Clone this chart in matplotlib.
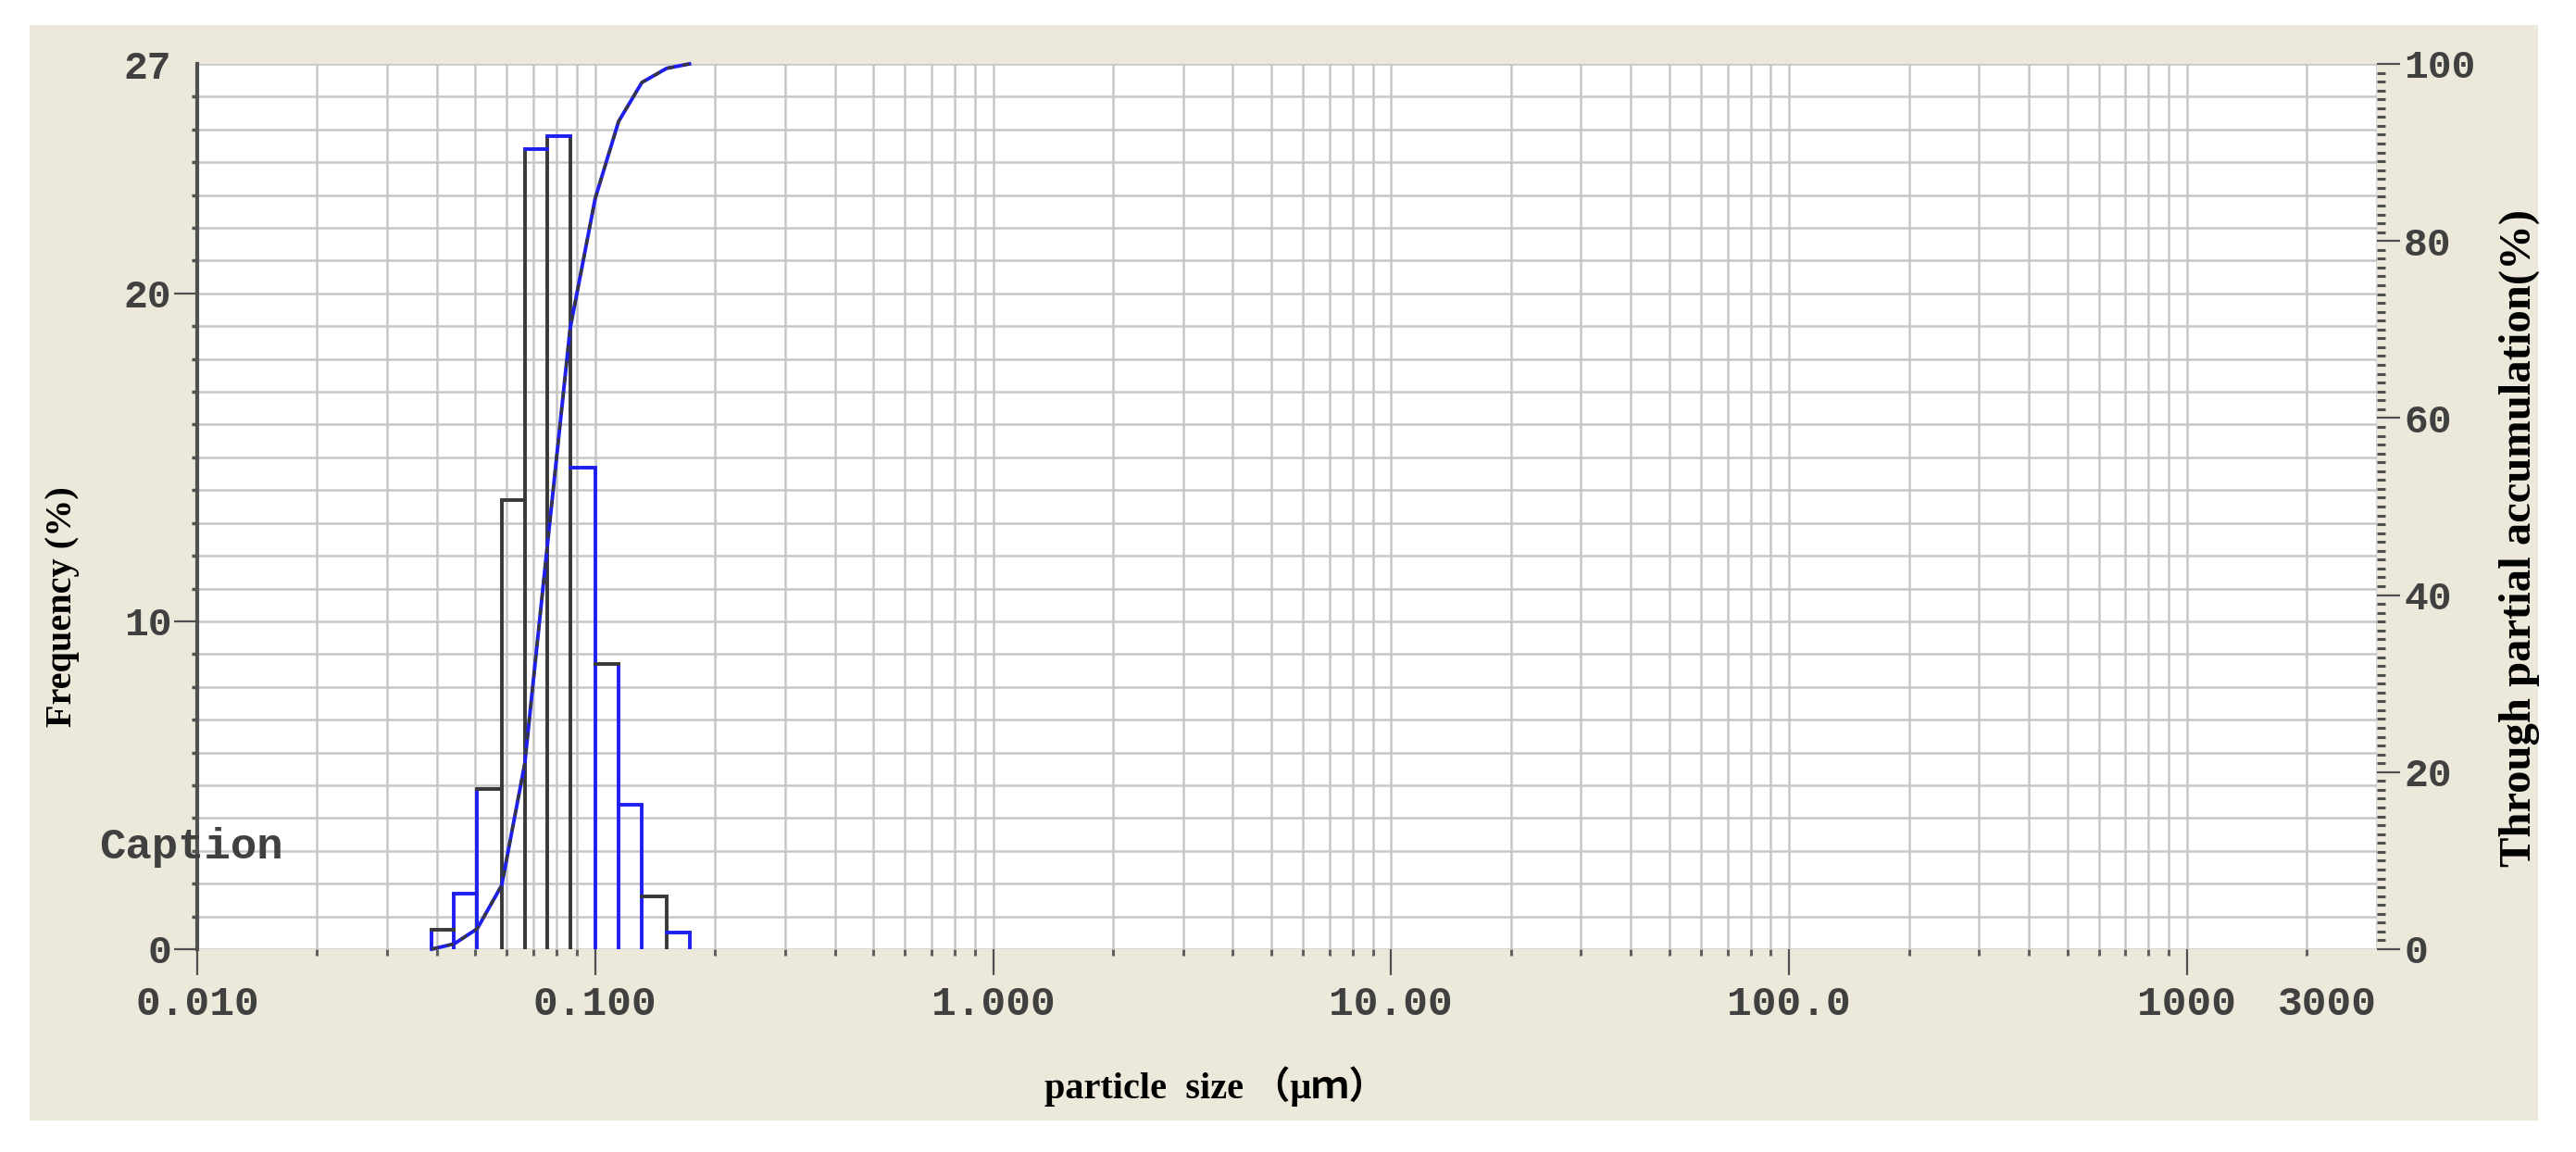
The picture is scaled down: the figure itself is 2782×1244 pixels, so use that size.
import numpy as np
import matplotlib
matplotlib.use("Agg")
import matplotlib.pyplot as plt
from matplotlib.ticker import FixedLocator, FixedFormatter, LogLocator, NullFormatter, MultipleLocator
from matplotlib.patches import Rectangle

# ---------------- data ----------------
bin_edges_um = [0.0388, 0.0442, 0.0505, 0.0582, 0.0665, 0.0757, 0.0865,
                0.1000, 0.1145, 0.1310, 0.1512, 0.1725]
frequency_pct = [0.6, 1.7, 4.9, 13.7, 24.4, 24.8, 14.7, 8.7, 4.4, 1.6, 0.5]
x_tick_values = [0.01, 0.1, 1, 10, 100, 1000, 3000]
x_tick_labels = ["0.010", "0.100", "1.000", "10.00", "100.0", "1000", "3000"]
y_left_ticks = [0, 10, 20, 27]
y_left_labels = ["0", "10", "20", "27"]
y_right_ticks = [0, 20, 40, 60, 80, 100]
y_right_labels = ["0", "20", "40", "60", "80", "100"]

cumulative_pct = np.concatenate([[0.0], np.cumsum(frequency_pct)])

# ---------------- style ----------------
BLUE = "#1e1ef0"
DARK = "#383838"
AXC = "#505050"
GRID = "#c6c6c6"
BEIGE = "#ECE9DA"
edge_colors = [BLUE, BLUE, BLUE, DARK, DARK, DARK, DARK, BLUE, BLUE, BLUE, DARK, BLUE]
top_colors = [DARK, BLUE, DARK, DARK, BLUE, BLUE, BLUE, DARK, BLUE, DARK, BLUE]

plt.rcParams["font.family"] = ["Liberation Mono", "DejaVu Sans Mono"]
plt.rcParams["font.weight"] = "bold"

W, H = 2782, 1244
fig = plt.figure(figsize=(W / 100, H / 100), dpi=100, facecolor="white")
fig.add_artist(Rectangle((32 / W, 1 - 1210 / H), (2741 - 32) / W, (1210 - 27) / H,
                         transform=fig.transFigure, facecolor=BEIGE,
                         edgecolor="none", zorder=-10))

L, R, T, B = 213, 2567, 69, 1025
ax = fig.add_axes([L / W, 1 - B / H, (R - L) / W, (B - T) / H])
ax.set_facecolor("white")
ax.set_xscale("log")
ax.set_xlim(0.01, 3000)
ax.set_ylim(0, 27)

# grid
ax.xaxis.set_major_locator(FixedLocator(x_tick_values))
ax.xaxis.set_major_formatter(FixedFormatter(x_tick_labels))
ax.xaxis.set_minor_locator(LogLocator(base=10, subs=range(2, 10), numticks=50))
ax.xaxis.set_minor_formatter(NullFormatter())
ax.yaxis.set_major_locator(FixedLocator(y_left_ticks))
ax.yaxis.set_major_formatter(FixedFormatter(y_left_labels))
ax.yaxis.set_minor_locator(MultipleLocator(1))
ax.grid(True, which="both", axis="both", color=GRID, lw=1.8, zorder=0)
ax.set_axisbelow(True)

for s in ("top", "right", "bottom"):
    ax.spines[s].set_visible(False)
ax.spines["left"].set_color(AXC)
ax.spines["left"].set_linewidth(3)

ax.tick_params(axis="y", which="major", direction="out", length=18, width=1.6,
               color=AXC, pad=2, labelsize=31, labelcolor="#404040")
ax.tick_params(axis="y", which="minor", direction="out", length=4, width=2.5, color=AXC)
ax.tick_params(axis="x", which="major", direction="out", length=20, width=1.6,
               color=AXC, pad=8, labelsize=32, labelcolor="#404040")
ax.tick_params(axis="x", which="minor", direction="out", length=5, width=2.2, color="#606060")

# histogram outline (step bars, no bottom edge)
n = len(frequency_pct)
for k, xe in enumerate(bin_edges_um):
    hl = frequency_pct[k - 1] if k > 0 else 0
    hr = frequency_pct[k] if k < n else 0
    ax.plot([xe, xe], [0, max(hl, hr)], color=edge_colors[k], lw=2.8,
            solid_capstyle="butt", zorder=3)
for i in range(n):
    ax.plot([bin_edges_um[i], bin_edges_um[i + 1]], [frequency_pct[i]] * 2,
            color=top_colors[i], lw=2.8, solid_capstyle="projecting", zorder=3)

# right axis: cumulative curve
ax2 = ax.twinx()
ax2.set_ylim(0, 100)
ax2.set_xlim(0.01, 3000)
for s in ax2.spines.values():
    s.set_visible(False)
ax2.yaxis.set_major_locator(FixedLocator(y_right_ticks))
ax2.yaxis.set_major_formatter(FixedFormatter(y_right_labels))
ax2.yaxis.set_minor_locator(MultipleLocator(1))
ax2.tick_params(axis="y", which="major", direction="out", length=18, width=1.6,
                color=AXC, pad=3, labelsize=31, labelcolor="#404040")
ax2.tick_params(axis="y", which="minor", direction="out", length=6.5, width=2.2, color=AXC)

ax2.plot(bin_edges_um, cumulative_pct, color=BLUE, lw=2.8, zorder=4, clip_on=False)
ax2.plot(bin_edges_um, cumulative_pct, color=DARK, lw=2.2, dashes=(2.5, 3),
         zorder=5, clip_on=False)

# tick tweaks: no tick mark at 27 and 3000, 3000 right-aligned
fig.canvas.draw()
ax.yaxis.get_major_ticks()[3].tick1line.set_visible(False)
xt = ax.xaxis.get_major_ticks()
xt[-1].tick1line.set_visible(False)
xt[-1].label1.set_horizontalalignment("right")

# labels
serif = ["Liberation Serif", "Noto Sans CJK SC", "DejaVu Sans"]
fig.text(1312 / W, 1 - 1173 / H, "particle  size （μｍ）", family=serif,
         weight="bold", fontsize=29, ha="center", va="center", color="black")
fig.text(67 / W, 1 - 655 / H, "Frequency (%)", family=serif, weight="bold",
         fontsize=29, rotation=90, ha="center", va="center", color="black")
fig.text(2721 / W, 1 - 581 / H, "Through partial accumulation(%)", family=serif,
         weight="bold", fontsize=35, rotation=90, ha="center", va="center", color="black")
fig.text(107 / W, 1 - 927 / H, "Caption", fontsize=34, ha="left", va="baseline",
         color="#404040", family=["Liberation Mono", "DejaVu Sans Mono"], weight="bold")

fig.savefig("out.png", dpi=100, facecolor="white")
